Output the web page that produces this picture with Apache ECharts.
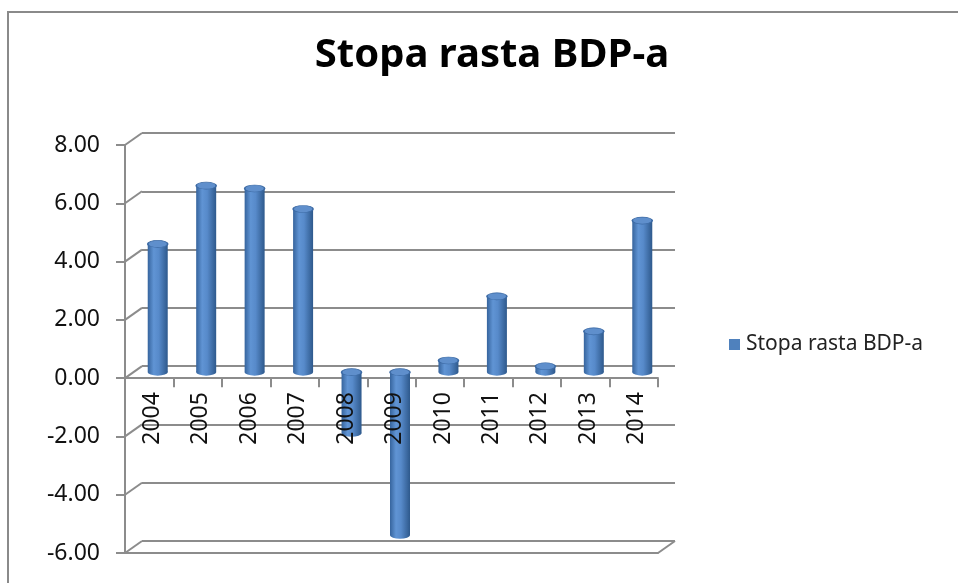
<!DOCTYPE html>
<html>
<head>
<meta charset="utf-8">
<script src="https://cdn.jsdelivr.net/npm/echarts@6/dist/echarts.min.js"></script>
<style>
html,body{margin:0;padding:0;background:#fff;}
#chart{width:958px;height:583px;}
</style>
</head>
<body>
<div id="chart"></div>
<script>
// ---- data ----
const years = ['2004','2005','2006','2007','2008','2009','2010','2011','2012','2013','2014'];
const growth = [4.4, 6.4, 6.3, 5.6, -2.1, -5.6, 0.4, 2.6, 0.2, 1.4, 5.2];
const yTicks = [-6, -4, -2, 0, 2, 4, 6, 8];
const seriesName = 'Stopa rasta BDP-a';
const titleText = 'Stopa rasta BDP-a';

// ---- styling ----
const FONT = 'Noto Sans';
const GRAY = '#8c8c8c';
const DX = 17, DY = -12; // depth offset of back wall
const yMin = yTicks[0], yMax = yTicks[yTicks.length - 1], yStep = yTicks[1] - yTicks[0];

const front = {left: 125, top: 145, width: 533, height: 408};
const back = {left: front.left + DX, top: front.top + DY, width: front.width, height: front.height};
const mid = {left: front.left + DX / 2, top: front.top + DY / 2, width: front.width, height: front.height};
// grid whose bottom edge lies on the zero line (for category labels drawn above bars)
const upper = {left: front.left + 3, top: front.top, width: front.width,
  height: front.height * (yMax - 0) / (yMax - yMin)};

const barGrad = new echarts.graphic.LinearGradient(0, 0, 1, 0, [
  {offset: 0, color: '#36649d'},
  {offset: 0.3, color: '#6094d4'},
  {offset: 0.55, color: '#578aca'},
  {offset: 1, color: '#2e598c'}
]);

const capData = growth.map((v, i) => [years[i], Math.max(v, 0)]);
const baseData = growth.map((v, i) => [years[i], Math.min(v, 0)]);

const chart = echarts.init(document.getElementById('chart'), null, {renderer: 'canvas'});

const yBase = {type: 'value', min: yMin, max: yMax, interval: yStep};
const gridBase = {containLabel: false, outerBoundsMode: 'none'};

chart.setOption({
  animation: false,
  backgroundColor: '#fff',
  textStyle: {fontFamily: FONT},
  title: {
    text: titleText,
    left: 487, top: 31, textAlign: 'center',
    textStyle: {fontFamily: FONT, fontWeight: 'bold', fontSize: 40, color: '#000'}
  },
  legend: {
    data: [{name: seriesName, itemStyle: {color: '#4f81bd'}}],
    left: 724, top: 329,
    icon: 'rect', itemWidth: 11, itemHeight: 11, itemGap: 0,
    textStyle: {fontFamily: FONT, fontSize: 21, color: '#222', padding: [0, 0, 0, 1]}
  },
  graphic: [{
    type: 'rect', silent: true, z: -1,
    shape: {x: 8, y: 12, width: 980, height: 620},
    style: {fill: 'none', stroke: '#8a8a8a', lineWidth: 2}
  }],
  grid: [
    Object.assign({}, gridBase, front),
    Object.assign({}, gridBase, back),
    Object.assign({}, gridBase, mid),
    Object.assign({}, gridBase, upper)
  ],
  xAxis: [
    { // front axis line at zero with ticks
      gridIndex: 0, type: 'category', data: years, position: 'bottom',
      axisLine: {onZero: true, lineStyle: {color: GRAY, width: 2}},
      axisTick: {show: true, length: 9, lineStyle: {color: GRAY, width: 2}},
      axisLabel: {show: false}, splitLine: {show: false}
    },
    { // floor front edge
      gridIndex: 0, type: 'category', data: years, position: 'top',
      offset: -front.height,
      axisLine: {onZero: false, lineStyle: {color: GRAY, width: 2}},
      axisTick: {show: false}, axisLabel: {show: false}
    },
    {gridIndex: 1, type: 'category', data: years, show: false},
    {gridIndex: 2, type: 'category', data: years, show: false},
    { // labels drawn above bars, on the zero line
      gridIndex: 3, type: 'category', data: years, position: 'bottom', z: 20,
      axisLine: {show: false, onZero: false},
      axisTick: {show: false},
      axisLabel: {rotate: 90, margin: 14, fontSize: 23, color: '#111', fontFamily: FONT}
    }
  ],
  yAxis: [
    Object.assign({}, yBase, {
      gridIndex: 0,
      axisLine: {show: true, onZero: false, lineStyle: {color: GRAY, width: 2}},
      axisTick: {show: true, length: 9, lineStyle: {color: GRAY, width: 2}},
      axisLabel: {margin: 25, fontSize: 23, color: '#111', fontFamily: FONT,
        formatter: v => v.toFixed(2)},
      splitLine: {show: false}
    }),
    Object.assign({}, yBase, {
      gridIndex: 1,
      axisLine: {show: false}, axisTick: {show: false}, axisLabel: {show: false},
      splitLine: {show: true, lineStyle: {color: GRAY, width: 2}}
    }),
    Object.assign({}, yBase, {gridIndex: 2, show: false, splitLine: {show: false}}),
    {type: 'value', gridIndex: 3, min: 0, max: yMax, show: false, splitLine: {show: false}}
  ],
  series: [
    { // 3D wall connectors
      type: 'custom', xAxisIndex: 0, yAxisIndex: 0, silent: true, z: 1,
      data: yTicks.map(v => [0, v]),
      renderItem: function (params, api) {
        const cs = params.coordSys;
        const v = api.value(1);
        const y = api.coord([0, v])[1];
        const children = [{
          type: 'line',
          shape: {x1: cs.x, y1: y, x2: cs.x + DX, y2: y + DY},
          style: {stroke: GRAY, lineWidth: 2}
        }];
        if (v === yMin) {
          children.push({
            type: 'line',
            shape: {x1: cs.x + cs.width, y1: y, x2: cs.x + cs.width + DX, y2: y + DY},
            style: {stroke: GRAY, lineWidth: 2}
          });
        }
        return {type: 'group', children: children};
      }
    },
    { // cylinder base ellipses
      name: 'base', type: 'scatter', xAxisIndex: 3, yAxisIndex: 2, silent: true, z: 4,
      data: baseData, symbol: 'circle', symbolSize: [20, 7],
      itemStyle: {color: barGrad, opacity: 1}
    },
    {
      name: seriesName, type: 'bar', xAxisIndex: 3, yAxisIndex: 2, z: 5,
      data: growth, barWidth: 20,
      itemStyle: {color: barGrad}
    },
    { // cylinder caps
      name: 'cap', type: 'scatter', xAxisIndex: 3, yAxisIndex: 2, silent: true, z: 6,
      data: capData, symbol: 'circle', symbolSize: [20, 7],
      itemStyle: {color: '#5f8fcc', borderColor: '#3c6aa4', borderWidth: 1, opacity: 1}
    }
  ]
});
</script>
</body>
</html>
